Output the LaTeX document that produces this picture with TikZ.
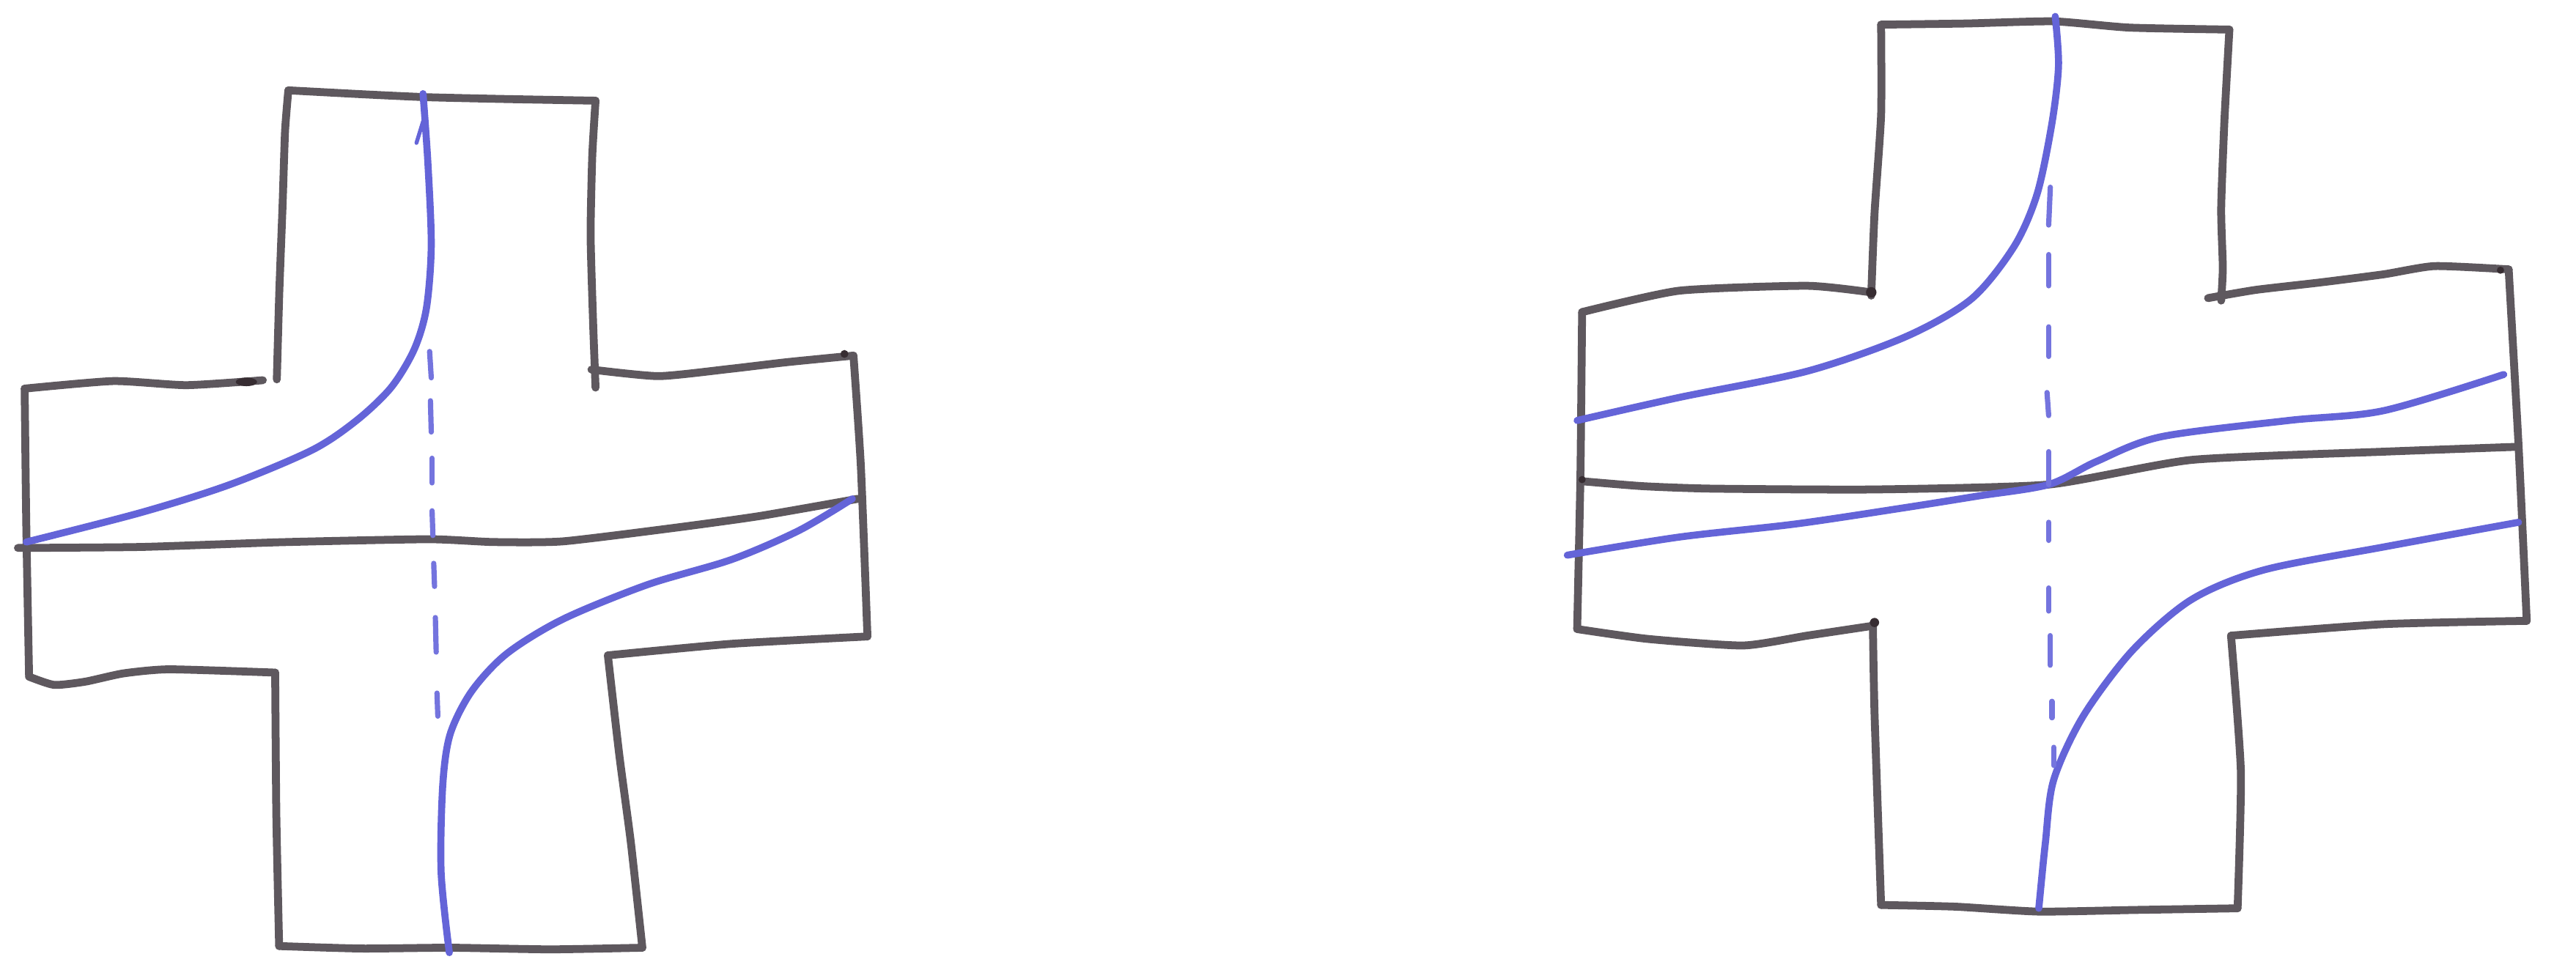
\documentclass[tikz,border=0pt]{standalone}
\definecolor{pencil}{RGB}{94,88,94}
\definecolor{pencildark}{RGB}{55,45,50}
\definecolor{inkblue}{RGB}{100,100,216}
\definecolor{inkbluelight}{RGB}{116,116,222}
\tikzset{
  outline/.style={line width=4.8pt, draw=pencil, line join=round, line cap=round},
  road/.style={line width=4.3pt, draw=inkblue, line join=round, line cap=round},
  roaddash/.style={line width=3.2pt, draw=inkbluelight, line cap=round},
  blob/.style={fill=pencildark}
}
\begin{document}
\begin{tikzpicture}[x=1pt,y=-1pt]
\fill[white] (0,0) rectangle (1568,592);
\useasboundingbox (0,0) rectangle (1568,592);

% ================= LEFT CROSS =================
% top arm
\draw[outline] plot[smooth, tension=0.35] coordinates {(168.5,231) (170,178) (172,125) (173.5,80) (175.5,55)};
\draw[outline] plot[smooth, tension=0.35] coordinates {(175.5,55) (222.9,57.5) (260.6,59.2) (308,60.3) (362.5,61.3)};
\draw[outline] plot[smooth, tension=0.35] coordinates {(362.5,61.3) (360.5,95) (359.5,143) (361,196) (362.5,236)};
% left arm
\draw[outline] plot[smooth, tension=0.35] coordinates {(160,231.5) (113.5,234.5) (69,232) (15,236.6)};
\draw[outline] plot[smooth, tension=0.35] coordinates {(15,236.6) (16,320) (17.7,412)};
\draw[outline] plot[smooth, tension=0.35] coordinates {(17.7,412) (33,417) (52,415) (75,410) (103,407.5) (167.5,409.5)};
% bottom arm
\draw[outline] plot[smooth, tension=0.35] coordinates {(167.5,409.5) (168.2,496) (169.9,576)};
\draw[outline] plot[smooth, tension=0.35] coordinates {(169.9,576) (220,577.5) (274,577) (335,578) (391,577)};
\draw[outline] plot[smooth, tension=0.35] coordinates {(391,577) (384,513) (377,460) (370,399)};
% right arm
\draw[outline] plot[smooth, tension=0.35] coordinates {(370,399) (445,392) (528,387.5)};
\draw[outline] plot[smooth, tension=0.35] coordinates {(528,387.5) (524,284) (519.5,216.5)};
\draw[outline] plot[smooth, tension=0.35] coordinates {(519.5,216.5) (479,220.5) (445,224.5) (401,229) (360,225)};
% middle line
\draw[outline] plot[smooth, tension=0.35] coordinates {(10.9,333.6) (86.1,333) (171.6,330.1) (260.6,328.3)
  (300,330) (342.6,329.6) (411,321.3) (462.3,314.2) (522.2,303.7)};
% blobs
\fill[blob] (150,232.5) ellipse (6.5pt and 2.6pt);
\fill[blob] (514,215.5) circle (2.4pt);
% blue curves
\draw[road] plot[smooth, tension=0.5] coordinates {(257.5,57) (260.5,100) (262.5,150) (259.5,188)
  (252,213) (238,236) (217,256) (190,274) (140,295) (86,312) (16,330)};
\draw[road, line width=2.4pt] (257.5,74) -- (253.5,87);
\draw[road] plot[smooth, tension=0.5] coordinates {(518.8,303.7) (486.3,323) (445.2,340.7)
  (394,356) (342.6,377) (308.4,398) (287,421) (274,447) (269.5,478)
  (268.5,531) (273.5,580)};
% dashed centre line
\foreach \a/\b/\xa/\xb in {214/230/261.5/262.5, 244/263/262/262.5, 279/294/263/263,
  311/326/263/263.5, 343/357/264/264.5, 376/397/265/265.5, 422/436/266/266.5}
  \draw[roaddash] (\xa,\a) -- (\xb,\b);

% ================= RIGHT CROSS =================
% top arm
\draw[outline] plot[smooth, tension=0.35] coordinates {(1139,180) (1141,130) (1145,70) (1145,15)};
\draw[outline] plot[smooth, tension=0.35] coordinates {(1145,15) (1197,14.3) (1250,13) (1296,16.8) (1357,18)};
\draw[outline] plot[smooth, tension=0.35] coordinates {(1357,18) (1354,73) (1352,127) (1353,163) (1352,183)};
% right arm
\draw[outline] plot[smooth, tension=0.35] coordinates {(1344,181.5) (1373,176.5) (1412,172) (1451,167) (1482,162) (1527,164)};
\draw[outline] plot[smooth, tension=0.35] coordinates {(1527,164) (1533,271) (1538,378)};
\draw[outline] plot[smooth, tension=0.35] coordinates {(1538,378) (1451,380) (1358,387)};
% bottom arm
\draw[outline] plot[smooth, tension=0.35] coordinates {(1358,387) (1364,470) (1362,553)};
\draw[outline] plot[smooth, tension=0.35] coordinates {(1362,553) (1300,554) (1241,555) (1190,552) (1145,551)};
\draw[outline] plot[smooth, tension=0.35] coordinates {(1145,551) (1141,434) (1140,380)};
% left arm
\draw[outline] plot[smooth, tension=0.35] coordinates {(1140,381) (1100,387) (1061,393) (1003,389) (960,383)};
\draw[outline] plot[smooth, tension=0.35] coordinates {(960,383) (962,289) (963,190)};
\draw[outline] plot[smooth, tension=0.35] coordinates {(963,190) (1022,177) (1100,174) (1139,178)};
% middle line
\draw[outline] plot[smooth, tension=0.35] coordinates {(963,293) (1000,296) (1042,297.5) (1140,298) (1247,295) (1334,280)
  (1451,275) (1533,272)};
% blobs
\fill[blob] (1139,178) circle (3.2pt);
\fill[blob] (1141,379) circle (2.8pt);
\fill[blob] (1522,164.5) circle (2.2pt);
\fill[blob] (963,292) circle (2.2pt);
% blue curves
\draw[road] plot[smooth, tension=0.5] coordinates {(1251,10) (1253,40) (1249,75) (1240,118)
  (1226,150) (1200,182) (1160,205) (1100,226) (1022,242) (960,256)};
\draw[road] plot[smooth, tension=0.5] coordinates {(954,338) (1022,327) (1093,319) (1160,309) (1204,302)
  (1247,295) (1276,281) (1315,266) (1393,256) (1451,250) (1524,228)};
\draw[road] plot[smooth, tension=0.5] coordinates {(1533,318) (1451,333) (1378,347) (1334,365)
  (1298,396) (1268,436) (1250,475) (1245,513) (1241,553)};
% dashed centre line
\foreach \a/\b/\xa/\xb in {114/137/1248/1247, 155/174/1247/1247, 199/217/1247/1247,
  239/253/1246/1247, 275/295/1247/1247, 318/329/1247/1247, 358/372/1247/1247,
  387/405/1248/1248, 427/437/1249/1249, 455/466/1250/1250}
  \draw[roaddash] (\xa,\a) -- (\xb,\b);
\end{tikzpicture}
\end{document}
